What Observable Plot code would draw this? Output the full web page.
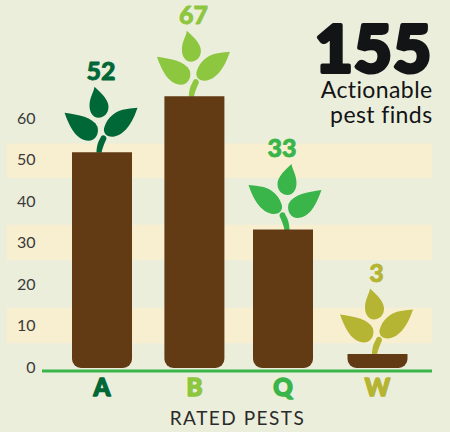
<!DOCTYPE html>
<html>
<head>
<meta charset="utf-8">
<script src="https://cdn.jsdelivr.net/npm/d3@7"></script>
<script src="https://cdn.jsdelivr.net/npm/@observablehq/plot@0.6"></script>
<style>
html,body{margin:0;padding:0;background:#eceedc;}
svg{display:block;}
</style>
</head>
<body>
<div id="chart"></div>
<script>
const categories = ["A", "B", "Q", "W"];
const labels = ["52", "67", "33", "3"];
const barHeights = [52, 65.5, 33.4, 3.4];
const colors = ["#006837", "#8dc63f", "#39b54a", "#b5b533"];
const mirrored = [false, false, true, false];
const bandLows = [6, 26, 45.8];
const bandHighs = [14.5, 34.5, 54.1];
const yTicks = [0, 10, 20, 30, 40, 50, 60];

const rows = categories.map((c, i) => ({c, label: labels[i], h: barHeights[i], flip: mirrored[i]}));
const bands = bandLows.map((lo, i) => ({lo, hi: bandHighs[i]}));
const slotShift = {A: 0, B: 0.4, Q: -3, W: -0.5};
const tracking = {"155": "1.5px", "Actionable": "0.4px", "pest finds": "0.4px", "RATED PESTS": "1.5px"};

// glyph outlines, in pixels around the top centre of a bar
const glyphs = [
  [[-8,-66],[1,-58,6,-52,6,-46],[6,-39,1,-35,-4,-35],[-10,-35,-13,-41,-13,-47],[-13,-55,-9,-60,-8,-66]],
  [[-38,-40],[-24,-38,-10,-36,-5,-26],[-3,-18,-8,-12,-14,-12],[-26,-12,-33,-26,-38,-40]],
  [[35,-45],[30,-30,22,-17,10,-16],[3,-16,0,-21,2,-26],[5,-35,12,-41,20,-43],[25,-44,30,-44.5,35,-45]],
  [[-6,0],[-6,-7,-4,-12,-2,-15],[-1,-19,4,-18,4,-14],[2,-10,0,-5,-1,0]]
];
const symbolFor = (g, s) => ({
  draw(ctx) {
    ctx.moveTo(s * g[0][0], g[0][1]);
    for (const p of g.slice(1)) ctx.bezierCurveTo(s * p[0], p[1], s * p[2], p[3], s * p[4], p[5]);
    ctx.closePath();
  }
});

const perCategory = rows.flatMap(r => {
  const dx = slotShift[r.c];
  const one = [r];
  return [
    ...glyphs.map(g => Plot.dot(one, {x: "c", y: "h", fill: "c", symbol: symbolFor(g, r.flip ? -1 : 1), dx})),
    Plot.barY(one, {x: "c", y: "h", fill: "#623a14", ry2: 9, dx}),
    Plot.text(one, {x: "c", y: "h", text: "label", fill: "c", dy: -80.5, dx: dx - 1.5,
      fontFamily: "Lato", fontWeight: 900, fontSize: 25, stroke: "c", strokeWidth: 0.8}),
    Plot.text(one, {x: "c", y: 0, text: "c", fill: "c", dy: 20, dx: dx - 0.5,
      fontFamily: "Lato", fontWeight: 900, fontSize: 24, stroke: "c", strokeWidth: 1.5})
  ];
});

const chart = Plot.plot({
  width: 450,
  height: 432,
  marginTop: 0,
  marginRight: 0,
  marginBottom: 64,
  marginLeft: 0,
  style: {background: "#eceedc", overflow: "visible"},
  x: {type: "band", domain: categories, range: [72, 410], paddingInner: 0.348, paddingOuter: 0, align: 0, axis: null},
  y: {domain: [0, 88.67], axis: null},
  color: {domain: categories, range: colors},
  marks: [
    Plot.rectY(bands, {y1: "lo", y2: "hi", fill: "#f8efd0", insetLeft: 7, insetRight: 18}),
    Plot.axisY({ticks: yTicks, tickSize: 0, tickPadding: 0, dx: 35, dy: -0.8, label: null,
      fontFamily: "Lato", fontSize: 16, fill: "#3a3a3a"}),
    ...perCategory,
    Plot.ruleY([0], {stroke: "#39b54a", strokeWidth: 3, dy: 2.5, insetLeft: 42, insetRight: 18}),
    Plot.text(["155"], {frameAnchor: "top-right", dx: -18, dy: 50.5, lineAnchor: "middle", fontFamily: "Lato",
      fontWeight: 900, fontSize: 65, fill: "#121416", stroke: "#121416", strokeWidth: 4}),
    Plot.text(["Actionable"], {frameAnchor: "top-right", dx: -18, dy: 97, lineAnchor: "bottom", fontFamily: "Lato",
      fontSize: 23, fill: "#121416"}),
    Plot.text(["pest finds"], {frameAnchor: "top-right", dx: -18, dy: 122, lineAnchor: "bottom", fontFamily: "Lato",
      fontSize: 23, fill: "#121416"}),
    Plot.text(["RATED PESTS"], {frameAnchor: "top", dx: 12, dy: 418, lineAnchor: "middle", fontFamily: "Lato",
      fontSize: 19, fill: "#2a2a2a"})
  ]
});
chart.querySelectorAll("text").forEach(t => {
  const k = tracking[t.textContent];
  if (k) t.style.letterSpacing = k;
});
document.getElementById("chart").append(chart);
</script>
</body>
</html>
